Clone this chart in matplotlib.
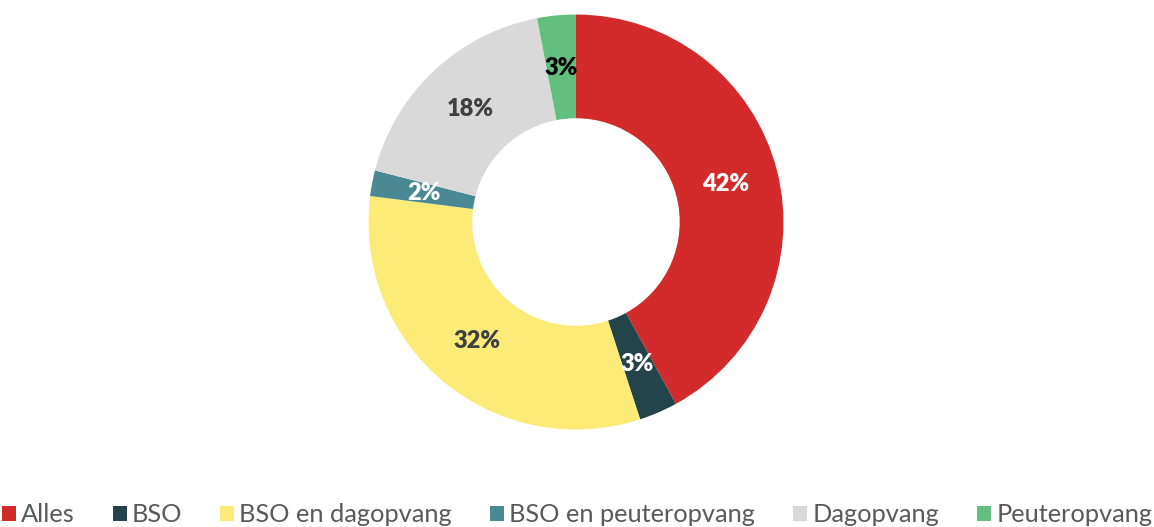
import matplotlib.pyplot as plt
from matplotlib.patches import Patch
import numpy as np

# data
labels = ["Alles", "BSO", "BSO en dagopvang", "BSO en peuteropvang", "Dagopvang", "Peuteropvang"]
values = [42, 3, 32, 2, 18, 3]
colors = ["#D32B2B", "#24444C", "#FDEB78", "#4A8894", "#D9D9D9", "#62BF7E"]
label_colors = ["white", "white", "#404040", "white", "#404040", "black"]

plt.rcParams["font.family"] = ["Lato", "DejaVu Sans"]

fig = plt.figure(figsize=(11.54, 5.27), dpi=100)
ax = fig.add_axes([0.3193, 0.185, 0.3596, 0.7875])

wedges, texts = ax.pie(values, colors=colors, startangle=90, counterclock=False,
                       radius=1, wedgeprops=dict(width=0.5, linewidth=0))
ax.set_xlim(-1, 1)
ax.set_ylim(-1, 1)
ax.set_aspect("equal")

# percent labels in the middle of the ring
total = sum(values)
start = 90.0
for v, c in zip(values, label_colors):
    mid = start - v / total * 360 / 2
    start -= v / total * 360
    r = 0.745
    x = r * np.cos(np.radians(mid))
    y = r * np.sin(np.radians(mid))
    ax.text(x, y, f"{v}%", ha="center", va="center", color=c,
            fontsize=17, fontweight="heavy")

handles = [Patch(facecolor=c, edgecolor="none") for c in colors]
leg = fig.legend(handles, labels, loc="center", bbox_to_anchor=(0.5, 0.023), ncol=6,
                 frameon=False, prop=dict(size=18.3, weight="normal"),
                 handlelength=0.55, handleheight=0.55,
                 handletextpad=0.2, columnspacing=1.5, labelcolor="#595959")

fig.savefig("out.png", dpi=100)
